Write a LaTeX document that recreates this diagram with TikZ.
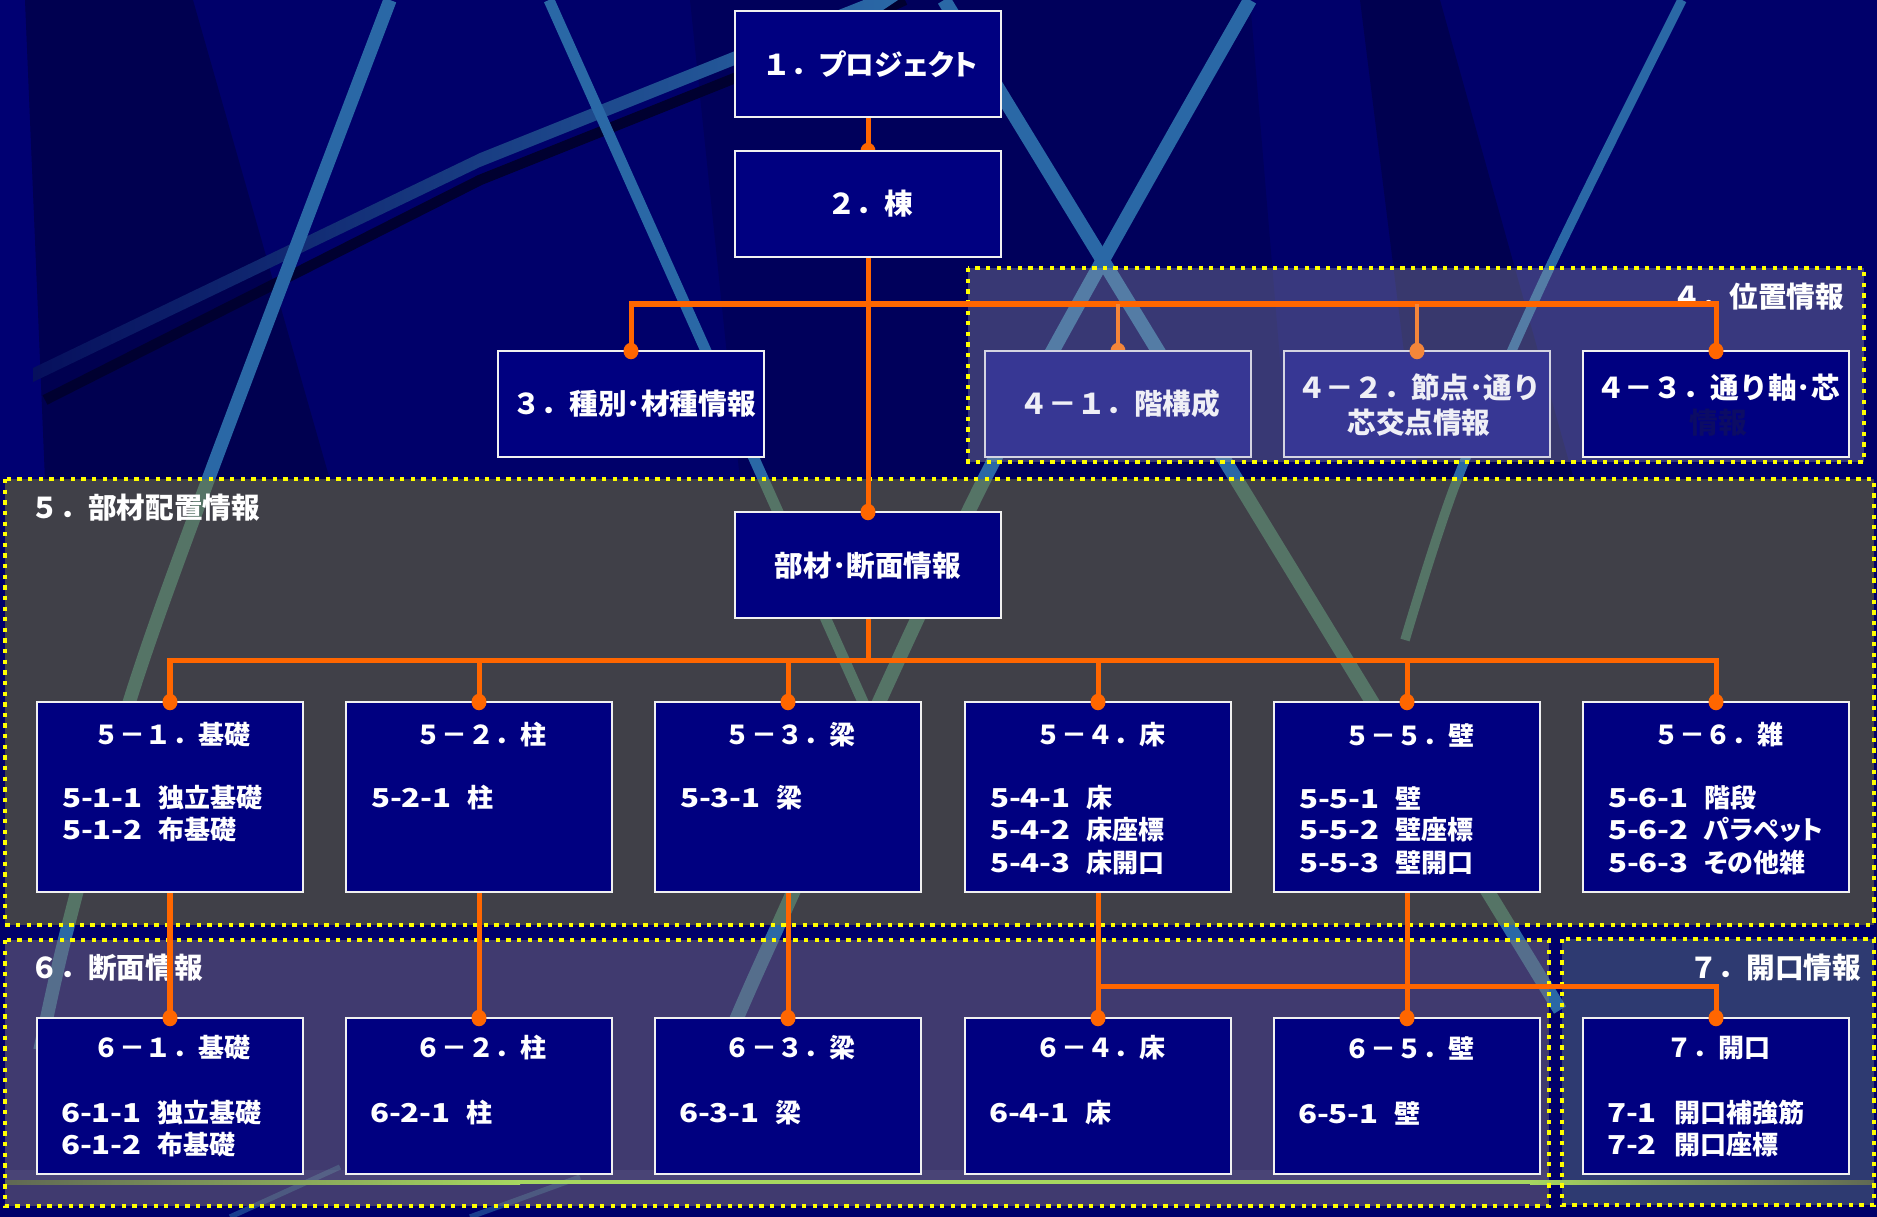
\documentclass[tikz,border=0pt]{standalone}
\usepackage{fontspec}
\setmainfont{Noto Sans CJK JP}
\newfontfamily\jpp{Noto Sans CJK JP}[RawFeature=+palt]
\newfontfamily\codefont{Noto Sans CJK JP}[FakeStretch=1.2]
\definecolor{bgbase}{RGB}{0,0,106}
\definecolor{bgdark}{RGB}{0,0,80}
\definecolor{bglite}{RGB}{0,0,114}
\definecolor{streak}{RGB}{42,104,166}
\definecolor{navybox}{RGB}{0,0,128}
\definecolor{lavbox}{RGB}{55,55,148}
\definecolor{orng}{RGB}{255,102,0}
\definecolor{orngl}{RGB}{244,134,58}
\definecolor{ylw}{RGB}{255,255,0}
\definecolor{fourc}{RGB}{163,163,164}
\definecolor{fivec}{RGB}{128,128,40}
\definecolor{sixc}{RGB}{128,116,116}
\definecolor{sevenc}{RGB}{115,145,124}
\definecolor{hiddentxt}{RGB}{12,12,100}
\definecolor{boxline}{RGB}{240,240,240}
\definecolor{grn}{RGB}{166,214,96}
\definecolor{grndim}{RGB}{96,104,84}
\newcommand{\myitem}[2]{\makebox[3.7em][l]{\codefont\bfseries #1}#2}
\newcommand{\myitemb}[2]{\makebox[2.58em][l]{\codefont\bfseries #1}#2}
\pgfdeclarelayer{bglayer}
\pgfdeclarelayer{connlayer}
\pgfdeclarelayer{fore}
\pgfsetlayers{bglayer,connlayer,main,fore}
\begin{document}
\begin{tikzpicture}[x=0.02cm,y=-0.02cm,
  every node/.style={inner sep=0pt, outer sep=0pt},
  box/.style={draw=boxline, line width=1.25pt, fill=navybox, minimum width=5.32cm},
  topbox/.style={box, minimum height=2.12cm},
  rfivebox/.style={box, minimum height=3.8cm},
  rsixbox/.style={box, minimum height=3.12cm},
  ttl/.style={text=white, font=\bfseries\fontsize{16.3}{19.9}\selectfont, align=center},
  subttl/.style={text=white, font=\bfseries\fontsize{14.8}{17}\selectfont},
  itemtxt/.style={text=white, font=\bfseries\fontsize{14.8}{17}\selectfont, anchor=west},
  lbl/.style={text=white, font=\bfseries\fontsize{16.3}{19.9}\selectfont},
  conn/.style={draw=orng, line width=2.85pt},
  connl/.style={draw=orngl, line width=2.2pt},
  frm/.style={draw=ylw, line width=2.3pt, dash pattern=on 2.45pt off 3.6pt},
  streakline/.style={draw=streak, line width=7.6pt}
]
\useasboundingbox (0,0) rectangle (1877,1217);

% ---------------- background ----------------
\begin{pgfonlayer}{bglayer}
\fill[bgbase] (0,0) rectangle (1877,1217);
\fill[bglite] (0,0) -- (25,0) -- (45,480) -- (0,480) -- cycle;
\fill[bgdark] (25,0) -- (193,0) -- (330,480) -- (45,480) -- cycle;
\fill[bgdark!60!bgbase] (690,0) -- (1250,0) -- (1290,480) -- (740,480) -- cycle;
\fill[bgdark] (1360,0) -- (1440,0) -- (1574,480) -- (1420,480) -- cycle;
% streaks
\draw[draw=bgdark!60!black, line width=6pt, line join=round] (45,400) -- (480,180) -- (735,78) -- (905,0);
\shade[left color=streak!15!bgdark, middle color=streak, right color=streak]
  (33,368) -- (480,153) -- (735,51) -- (884,-8) -- (898,0) -- (880,12) -- (735,65) -- (480,167) -- (33,382) -- cycle;
\draw[streakline] plot[smooth] coordinates {(390,0) (208,480) (129,703) (67,930) (40,1050)};
\draw[streakline, line width=6.2pt] (549,0) -- (880,740);
\draw[streakline, line width=8pt] plot[smooth] coordinates {(1250,0) (989,470) (767,950) (720,1060)};
\draw[streakline, line width=8pt] (944,0) -- (1560,1010);
\draw[streakline, line width=5.4pt] plot[smooth] coordinates {(1682,0) (1550,267) (1457,480) (1405,640)};
\draw[streakline, line width=3pt, opacity=.6] (340,1167) -- (230,1217);
\draw[streakline, line width=3pt, opacity=.6] (580,1177) -- (470,1217);
% translucent frames
\fill[fourc, opacity=.35] (968,268) rectangle (1864,462);
\fill[fivec, opacity=.5] (5,479) rectangle (1874,925);
\fill[sixc, opacity=.5] (5,940) rectangle (1549,1206);
\fill[sevenc, opacity=.4] (1562,939) rectangle (1874,1205);
% bottom light line
\fill[white, opacity=.05] (5,1170) rectangle (1549,1180);
\shade[left color=grndim, right color=grn] (5,1180) rectangle (520,1184);
\fill[grn] (520,1180) rectangle (1530,1184);
\shade[left color=grn, right color=grndim] (1530,1180) rectangle (1874,1184);
% frame borders
\draw[frm] (968,268) rectangle (1864,462);
\draw[frm] (5,479) rectangle (1874,925);
\draw[frm] (5,940) rectangle (1549,1206);
\draw[frm] (1562,939) rectangle (1874,1205);
% frame labels
\node[lbl, anchor=east] (l4) at (1844,297) {４．位置情報};
\node[lbl, anchor=west] (l5) at (31,508) {５．部材配置情報};
\node[lbl, anchor=west] (l6) at (31,968) {６．断面情報};
\node[lbl, anchor=east] (l7) at (1861,968) {７．開口情報};
\end{pgfonlayer}

% ---------------- boxes ----------------
\node[topbox] (b1) at (868,64) {};
\node[ttl] (t1) at (870,64) {１．{\jpp\bfseries プロジェクト}};
\node[topbox] (b2) at (868,204) {};
\node[ttl] (t2) at (870,204) {２．棟};
\node[topbox] (b3) at (631,404) {};
\node[ttl] (t3) at (634,404) {３．種別･材種情報};
\node[topbox, fill=lavbox, draw=boxline!85!lavbox] (b41) at (1118,404) {};
\node[ttl, text=white!92!lavbox] (t41) at (1120,404) {４－１．階構成};
\node[topbox, fill=lavbox, draw=boxline!85!lavbox] (b42) at (1417,404) {};
\node[ttl, text=white!92!lavbox] (t42) at (1419,405) {４－２．節点･通り\\芯交点情報};
\node[topbox] (b43) at (1716,404) {};
\node[ttl] (t43) at (1718,405) {４－３．通り軸･芯\\\textcolor{hiddentxt}{情報}};
\node[topbox] (bm) at (868,565) {};
\node[ttl] (tm) at (868,566) {部材･断面情報};

% row 5
\node[rfivebox] (b51) at (170,797) {};
\node[rfivebox] (b52) at (479,797) {};
\node[rfivebox] (b53) at (788,797) {};
\node[rfivebox] (b54) at (1098,797) {};
\node[rfivebox] (b55) at (1407,797) {};
\node[rfivebox] (b56) at (1716,797) {};
\node[subttl] (t51) at (172,735) {５－１．基礎};
\node[subttl] (t52) at (481,735) {５－２．柱};
\node[subttl] (t53) at (790,735) {５－３．梁};
\node[subttl] (t54) at (1100,735) {５－４．床};
\node[subttl] (t55) at (1409,735) {５－５．壁};
\node[subttl] (t56) at (1718,735) {５－６．雑};
\node[itemtxt] (i511) at (62,798) {\myitem{5-1-1}{独立基礎}};
\node[itemtxt] (i512) at (62,830) {\myitem{5-1-2}{布基礎}};
\node[itemtxt] (i521) at (371,798) {\myitem{5-2-1}{柱}};
\node[itemtxt] (i531) at (680,798) {\myitem{5-3-1}{梁}};
\node[itemtxt] (i541) at (990,798) {\myitem{5-4-1}{床}};
\node[itemtxt] (i542) at (990,830) {\myitem{5-4-2}{床座標}};
\node[itemtxt] (i543) at (990,863) {\myitem{5-4-3}{床開口}};
\node[itemtxt] (i551) at (1299,798) {\myitem{5-5-1}{壁}};
\node[itemtxt] (i552) at (1299,830) {\myitem{5-5-2}{壁座標}};
\node[itemtxt] (i553) at (1299,863) {\myitem{5-5-3}{壁開口}};
\node[itemtxt] (i561) at (1608,798) {\myitem{5-6-1}{階段}};
\node[itemtxt] (i562) at (1608,830) {\myitem{5-6-2}{{\jpp\bfseries パラペット}}};
\node[itemtxt] (i563) at (1608,863) {\myitem{5-6-3}{{\jpp\bfseries その他}雑}};

% row 6
\node[rsixbox] (b61) at (170,1096) {};
\node[rsixbox] (b62) at (479,1096) {};
\node[rsixbox] (b63) at (788,1096) {};
\node[rsixbox] (b64) at (1098,1096) {};
\node[rsixbox] (b65) at (1407,1096) {};
\node[rsixbox] (b7) at (1716,1096) {};
\node[subttl] (t61) at (172,1048) {６－１．基礎};
\node[subttl] (t62) at (481,1048) {６－２．柱};
\node[subttl] (t63) at (790,1048) {６－３．梁};
\node[subttl] (t64) at (1100,1048) {６－４．床};
\node[subttl] (t65) at (1409,1048) {６－５．壁};
\node[subttl] (t7) at (1718,1048) {７．開口};
\node[itemtxt] (i611) at (61,1113) {\myitem{6-1-1}{独立基礎}};
\node[itemtxt] (i612) at (61,1145) {\myitem{6-1-2}{布基礎}};
\node[itemtxt] (i621) at (370,1113) {\myitem{6-2-1}{柱}};
\node[itemtxt] (i631) at (679,1113) {\myitem{6-3-1}{梁}};
\node[itemtxt] (i641) at (989,1113) {\myitem{6-4-1}{床}};
\node[itemtxt] (i651) at (1298,1113) {\myitem{6-5-1}{壁}};
\node[itemtxt] (i71) at (1607,1113) {\myitemb{7-1}{開口補強筋}};
\node[itemtxt] (i72) at (1607,1145) {\myitemb{7-2}{開口座標}};

% ---------------- connectors ----------------
\coordinate (bus1) at (868,304);
\coordinate (bus2) at (868,660);
\coordinate (bus3) at (1098,986);
\begin{pgfonlayer}{connlayer}
\draw[conn] (b1.south) -- (b2.north);
\draw[conn] (b2.south) -- (bm.north);
\draw[conn] (b3.north) |- (bus1) -| (b43.north);
\draw[connl] (b41.north) -- (b41.north |- bus1);
\draw[connl] (b42.north) -- (b42.north |- bus1);
\draw[conn] (bm.south) -- (bus2);
\draw[conn] (b51.north) |- (bus2) -| (b56.north);
\foreach \b in {b52,b53,b54,b55} {\draw[conn] (\b.north) -- (\b.north |- bus2);}
\draw[conn] (b51.south) -- (b61.north);
\draw[conn] (b52.south) -- (b62.north);
\draw[conn] (b53.south) -- (b63.north);
\draw[conn] (b54.south) -- (b64.north);
\draw[conn] (b55.south) -- (b65.north);
\draw[conn] (bus3) -| (b7.north);
% dots hidden behind boxes
\fill[orng] (b2.north) ellipse [x radius=0.15cm, y radius=0.165cm];
\fill[orngl] (b41.north) ellipse [x radius=0.15cm, y radius=0.165cm];
\end{pgfonlayer}
\begin{pgfonlayer}{fore}
\foreach \b in {b3,b43,bm,b51,b52,b53,b54,b55,b56,b61,b62,b63,b64,b65,b7}
  {\fill[orng] (\b.north) ellipse [x radius=0.15cm, y radius=0.165cm];}
\fill[orngl] (b42.north) ellipse [x radius=0.15cm, y radius=0.165cm];
\end{pgfonlayer}
\end{tikzpicture}
\end{document}
